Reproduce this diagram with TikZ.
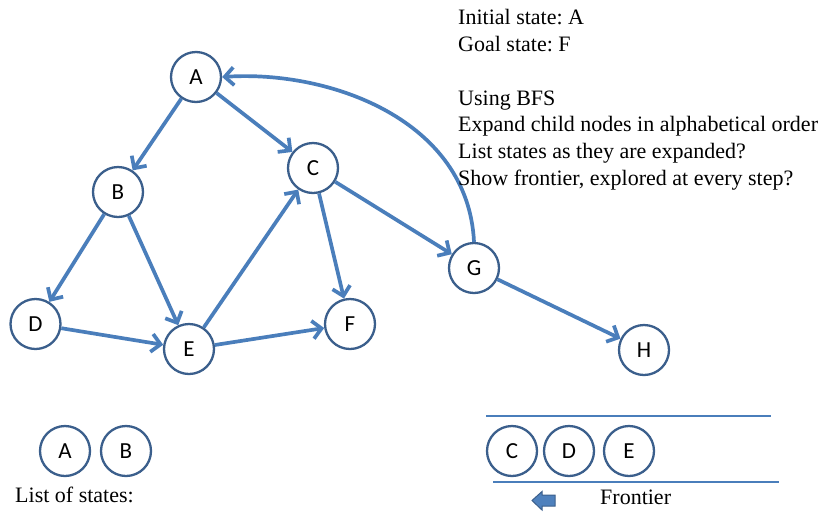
\documentclass[tikz,border=0pt]{standalone}
\usepackage{fontspec}
\setmainfont{Liberation Serif}
\newfontfamily\nodefont{Carlito}
\usetikzlibrary{arrows.meta}
\definecolor{edgeblue}{HTML}{4A7EBB}
\definecolor{ringblue}{HTML}{3B5F8C}
\definecolor{fillblue}{HTML}{4F81BD}
\begin{document}
\frenchspacing
\begin{tikzpicture}[x=1pt,y=-1pt,
  state/.style={circle,draw=ringblue,line width=2.3pt,fill=white,minimum size=50pt,inner sep=0pt,font=\nodefont\fontsize{23}{27}\selectfont},
  edge/.style={draw=edgeblue,line width=3.7pt,-{Straight Barb[length=9pt,width=18pt]}},
  rule/.style={draw=edgeblue,line width=2.4pt},
  info/.style={anchor=base west,inner sep=0pt,font=\fontsize{22}{26}\selectfont}]
\useasboundingbox (0,0) rectangle (821,515);
% graph nodes
\node[state] (A) at (196,77) {A};
\node[state] (B) at (118,192) {B};
\node[state] (C) at (313,168) {C};
\node[state] (D) at (35.5,324) {D};
\node[state] (E) at (189,349) {E};
\node[state] (F) at (350,324) {F};
\node[state] (G) at (474,268) {G};
\node[state] (H) at (644,350) {H};
% edges
\draw[edge] (A) -- (B);
\draw[edge] (A) -- (C);
\draw[edge] (B) -- (D);
\draw[edge] (B) -- (E);
\draw[edge] (D) -- (E);
\draw[edge] (E) -- (C);
\draw[edge] (E) -- (F);
\draw[edge] (C) -- (F);
\draw[edge] (C) -- (G);
\draw[edge] (G) -- (H);
\draw[edge] (G.north) .. controls (468,120) and (330,70) .. (A.east);
% text
\node[info] (t1) at (458,24) {Initial state: A};
\node[info] (t2) at (458,51) {Goal state: F};
\node[info] (t3) at (458,105) {Using BFS};
\node[info] (t4) at (458,131.5) {Expand child nodes in alphabetical order};
\node[info] (t5) at (458,158) {List states as they are expanded?};
\node[info] (t6) at (458,185) {Show frontier, explored at every step?};
% list of states
\node[state] (LA) at (65,451) {A};
\node[state] (LB) at (126,451) {B};
\node[info] (lst) at (15,502) {List of states:};
% frontier
\coordinate (r1a) at (486,416);
\coordinate (r1b) at (771,416);
\coordinate (r2a) at (493,482);
\coordinate (r2b) at (779,482);
\draw[rule] (r1a) -- (r1b);
\draw[rule] (r2a) -- (r2b);
\node[state] (FC) at (512,451) {C};
\node[state] (FD) at (569,451) {D};
\node[state] (FE) at (629,451) {E};
\draw[draw=ringblue,fill=fillblue,line width=1pt,line join=miter]
  (532,500.5) -- (542,491.5) -- (542,495) -- (555,495) -- (555,506) -- (542,506) -- (542,510) -- cycle;
\node[info] (fr) at (600,504) {Frontier};
\end{tikzpicture}
\end{document}
